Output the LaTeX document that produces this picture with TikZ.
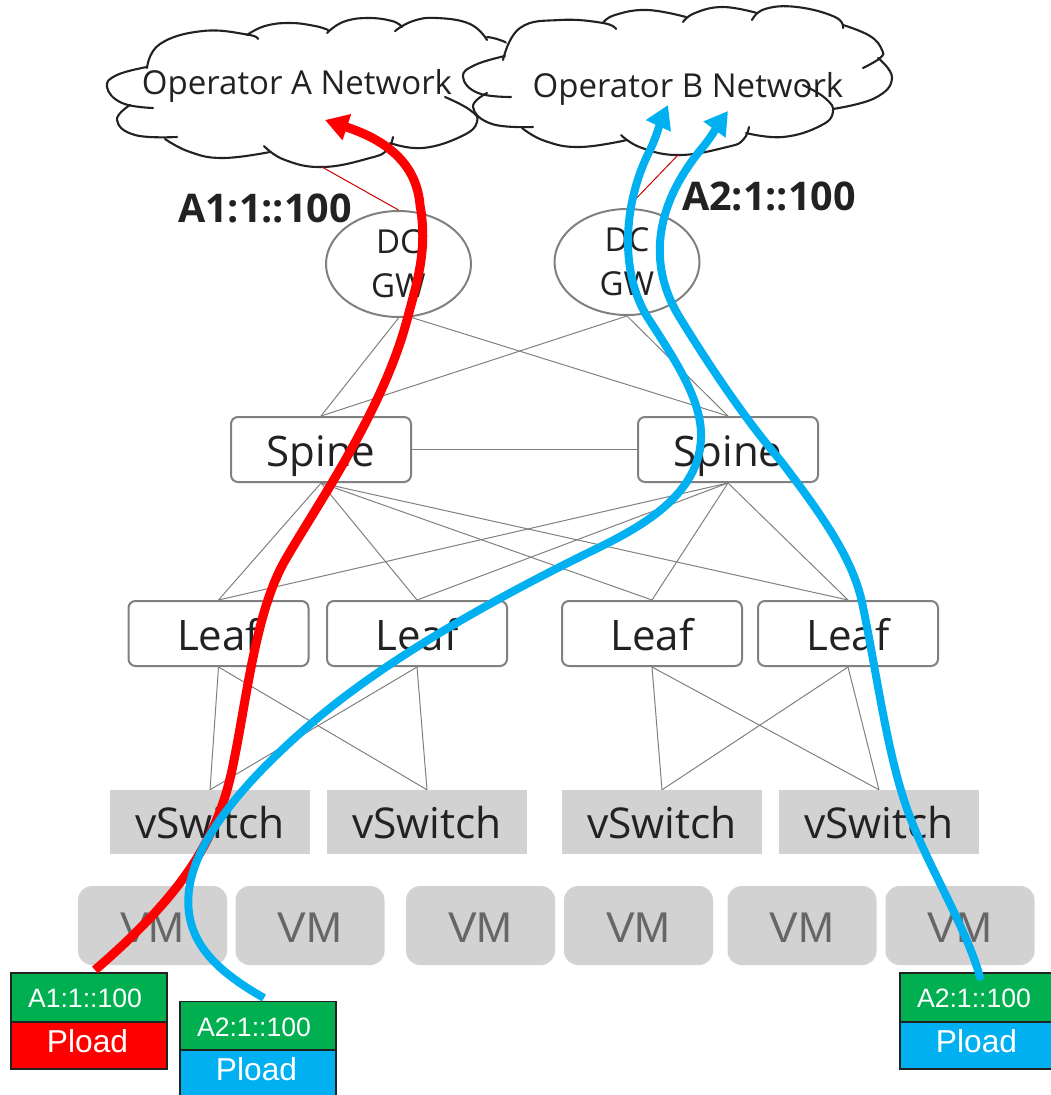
\documentclass[tikz,border=0pt]{standalone}
\usepackage{fontspec}
\setmainfont{Open Sans}
\newfontfamily\arialish{Liberation Sans}
\usetikzlibrary{arrows.meta,shapes.geometric}
\definecolor{inkc}{HTML}{222222}
\definecolor{edgec}{HTML}{808080}
\definecolor{boxc}{HTML}{D2D2D2}
\definecolor{vmtxt}{HTML}{666666}
\definecolor{pgreen}{HTML}{00B050}
\definecolor{pblue}{HTML}{00B0F0}
\tikzset{
 arc/.style={draw=inkc,line width=2.1,line cap=round,smooth,tension=0.75},
 mask/.style={fill=white,draw=none},
 netlabel/.style={inner sep=0,anchor=base,text=inkc,font=\fontsize{33}{36}\selectfont},
 addr/.style={inner sep=0,anchor=base,text=inkc,font=\fontsize{39.5}{42}\selectfont\bfseries},
 gw/.style={ellipse,draw=edgec,line width=2,fill=white,minimum width=145,minimum height=106,inner sep=0,text=inkc,align=center,font=\fontsize{33}{44}\selectfont},
 sw/.style={rectangle,rounded corners=7,draw=edgec,line width=2,fill=white,minimum width=180,minimum height=65,inner sep=0,text height=33,text depth=0,text=inkc,font=\fontsize{42}{44}\selectfont},
 vs/.style={rectangle,fill=boxc,minimum width=200,minimum height=64,inner sep=0,text height=33,text depth=0,text=inkc,font=\fontsize{42.5}{44}\selectfont},
 vm/.style={rectangle,rounded corners=14,fill=boxc,minimum width=149,minimum height=79,inner sep=0,text height=33,text depth=0,text=vmtxt,font=\arialish\fontsize{43}{45}\selectfont},
 thin link/.style={draw=edgec,line width=1},
 red link/.style={draw=red!80!black,line width=1},
 hdr/.style={rectangle,draw=inkc,line width=1.5,fill=pgreen,minimum width=156,minimum height=49,inner sep=0,text height=20,text depth=0,text=white,font=\arialish\fontsize{26.6}{28}\selectfont},
 pay/.style={rectangle,draw=inkc,line width=1.5,minimum width=156,minimum height=47,inner sep=0,text height=14,text depth=0,text=white,font=\arialish\fontsize{31.7}{33}\selectfont},
 redflow/.style={draw=red,line width=9,-{Triangle[length=23,width=26]}},
 blueflow/.style={draw=pblue,line width=8,-{Triangle[length=23,width=26]}},
}
\begin{document}
\begin{tikzpicture}[x=1pt,y=-1pt]
\useasboundingbox (0,0) rectangle (1051,1095);
% Cloud A
\fill[mask] plot[smooth,tension=0.7] coordinates {(247,34)(290,23)(328,30)(367,18)(402,27)(437,18)(487,38)(505,45)(505,80)(477,122)(423,148)(390,143)(323,167)(264,148)(223,158)(165,139)(140,137)(117,120)(130,105)(107,87)(147,68)(157,43)(203,31)(247,34)};
\draw[arc] plot coordinates {(258,39)(247,34.5)(203,31)(160,44)(147,68)};
\draw[arc] plot coordinates {(147,67)(117,75)(107,87)(122,103)(153,108)};
\draw[arc] plot coordinates {(130,105)(117,120)(135,135)(177,137)};
\draw[arc] plot coordinates {(165,139)(190,152)(223,158)(270,152)};
\draw[arc] plot coordinates {(264,146)(285,160)(323,167)(370,158)(387,150)(393,137)};
\draw[arc] plot coordinates {(390,143)(423,148)(462,136)(477,122)(470,110)(445,97)};
\draw[arc] plot coordinates {(395,31)(413,21)(437,18)(470,24)(487,40)};
\draw[arc] plot coordinates {(327,33)(343,22)(367,18)(392,21)(402,27)};
\draw[arc] plot coordinates {(247,35)(265,26)(290,23)(315,26)(328,30)};
\draw[arc] plot coordinates {(487,37)(497,39)(510,44)};
% Cloud B
\fill[mask] plot[smooth,tension=0.7] coordinates {(603,23)(647,10)(686,17)(723,7)(757,13)(797,7)(843,25)(882,50)(870,60)(892,78)(833,112)(783,137)(746,133)(680,155)(621,137)(580,147)(522,128)(490,127)(473,107)(487,95)(463,77)(505,56)(510,33)(560,20)(603,23)};
\draw[arc] plot coordinates {(616,29)(603,23)(560,20)(520,28)(503,60)};
\draw[arc] plot coordinates {(505,56)(475,65)(463,77)(478,93)(511,97)};
\draw[arc] plot coordinates {(487,93)(473,107)(492,124)(533,127)};
\draw[arc] plot coordinates {(522,128)(545,141)(580,147)(627,140)};
\draw[arc] plot coordinates {(621,135)(642,148)(680,155)(727,147)(743,140)(749,127)};
\draw[arc] plot coordinates {(746,133)(783,137)(820,126)(833,112)(825,98)(803,85)};
\draw[arc] plot coordinates {(833,109)(875,98)(892,78)(878,58)};
\draw[arc] plot coordinates {(863,68)(880,58)(882,50)(870,36)(843,25)};
\draw[arc] plot coordinates {(843,28)(835,17)(797,7)(765,9)(752,20)};
\draw[arc] plot coordinates {(757,13)(723,7)(695,13)(683,22)};
\draw[arc] plot coordinates {(686,17)(647,10)(615,15)(603,23)};
% Labels on the clouds
\node[netlabel] (opA) at (297,94) {Operator A Network};
\node[netlabel] (opB) at (688,97) {Operator B Network};
\node[addr] (addrA) at (265,222) {A1:1::100};
\node[addr] (addrB) at (769,210) {A2:1::100};
\coordinate (cloudAfoot) at (322,167);
\coordinate (cloudBfoot) at (678,155);
% Gateways
\node[gw] (gw1) at (398.5,264) {\raisebox{-2pt}{DC}\\\raisebox{-2pt}{GW}};
\node[gw] (gw2) at (627,262) {\raisebox{-2pt}{DC}\\\raisebox{-2pt}{GW}};
% Switch layers
\node[sw] (sp1) at (321,449.5) {Spine};
\node[sw] (sp2) at (728,449.5) {Spine};
\node[sw] (lf1) at (218.5,633.5) {Leaf};
\node[sw] (lf2) at (417,633.5) {Leaf};
\node[sw] (lf3) at (652,633.5) {Leaf};
\node[sw] (lf4) at (848,633.5) {Leaf};
\node[vs] (vs1) at (210,822) {vSwitch};
\node[vs] (vs2) at (427,822) {vSwitch};
\node[vs] (vs3) at (662,822) {vSwitch};
\node[vs] (vs4) at (879,822) {vSwitch};
\node[vm] (vm1) at (152.5,925.5) {VM};
\node[vm] (vm2) at (310,925.5) {VM};
\node[vm] (vm3) at (480.5,925.5) {VM};
\node[vm] (vm4) at (638.5,925.5) {VM};
\node[vm] (vm5) at (802,925.5) {VM};
\node[vm] (vm6) at (960,925.5) {VM};
% Links
\draw[red link] (cloudAfoot) -- (gw1.north);
\draw[red link] (cloudBfoot) -- (gw2.north);
\draw[thin link] (gw1.south) -- (sp1.north);
\draw[thin link] (gw1.-77) -- (sp2.north);
\draw[thin link] (gw2.south) -- (sp1.north);
\draw[thin link] (gw2.south) -- (sp2.north);
\draw[thin link] (sp1.east) -- (sp2.west);
\foreach \a in {sp1,sp2}\foreach \b in {lf1,lf2,lf3,lf4}
  \draw[thin link] (\a.south) -- (\b.north);
\foreach \a in {lf1,lf2}\foreach \b in {vs1,vs2}
  \draw[thin link] (\a.south) -- (\b.north);
\foreach \a in {lf3,lf4}\foreach \b in {vs3,vs4}
  \draw[thin link] (\a.south) -- (\b.north);
% Packets
\node[hdr] (h1) at (89,997.5) {A1:1::100\hspace*{8pt}};
\node[pay,fill=red] (p1) at (89,1045.5) {Pload\hspace*{3pt}};
\node[hdr] (h2) at (258,1026) {A2:1::100\hspace*{8pt}};
\node[pay,fill=pblue] (p2) at (258,1073.5) {Pload\hspace*{3pt}};
\node[hdr] (h3) at (978,997.5) {A2:1::100\hspace*{8pt}};
\node[pay,fill=pblue] (p3) at (978,1045.5) {Pload\hspace*{3pt}};
% Traffic flows
\coordinate (redstart) at (95,970);
\coordinate (redend) at (325,120);
\coordinate (b1start) at (264,998);
\coordinate (b1end) at (668,105);
\coordinate (b2start) at (980,977);
\coordinate (b2end) at (728,111);
\draw[redflow] (redstart)
  .. controls (170,905) and (215,850) .. (232,770)
  .. controls (247,700) and (255,610) .. (287,557)
  .. controls (319,502) and (383,410) .. (407,320)
  .. controls (417,282) and (428,250) .. (420,205)
  .. controls (417,170) and (395,143) .. (redend);
\draw[blueflow] (b1start)
  .. controls (215,970) and (183,940) .. (189,890)
  .. controls (195,840) and (245,780) .. (313,722)
  .. controls (375,669) and (470,610) .. (600,547)
  .. controls (640,527) and (700,495) .. (701,437)
  .. controls (702,400) and (675,360) .. (648,318)
  .. controls (620,274) and (622,205) .. (650,150)
  .. controls (656,138) and (662,118) .. (b1end);
\draw[blueflow,line cap=round] (b2start)
  .. controls (965,925) and (930,870) .. (910,817)
  .. controls (888,760) and (878,680) .. (863,607)
  .. controls (855,565) and (830,525) .. (780,460)
  .. controls (750,425) and (715,375) .. (680,318)
  .. controls (650,270) and (650,210) .. (703,147)
  .. controls (712,136) and (720,122) .. (b2end);
\end{tikzpicture}
\end{document}
